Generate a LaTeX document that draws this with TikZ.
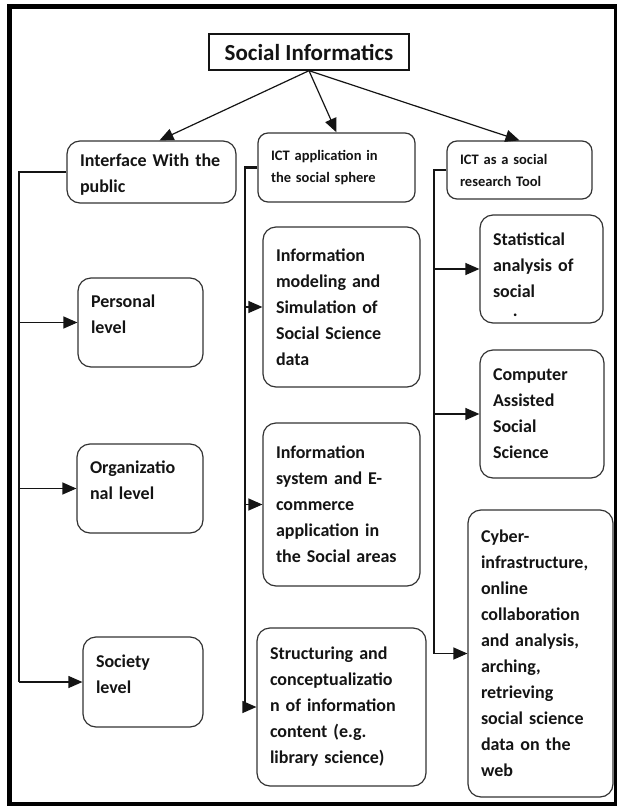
\documentclass[tikz,border=0pt]{standalone}
\usepackage{fontspec}
\setmainfont{Carlito}
\usetikzlibrary{arrows.meta,positioning,calc}
\definecolor{SinfInk}{HTML}{141414}
\definecolor{SinfEdge}{HTML}{333333}

\begin{document}
\begin{tikzpicture}[x=1pt,y=-1pt,>=Triangle]
  \tikzset{
    headbox/.style={draw=SinfInk,line width=1.4pt,minimum width=200pt,minimum height=36pt,
      font=\fontsize{23}{26}\selectfont\bfseries,text=SinfInk},
    cbox/.style={draw=SinfEdge,rounded corners=13pt,line width=1.2pt,align=left,
      inner xsep=13pt,inner ysep=3pt,font=\fontsize{18}{26}\selectfont\bfseries,text=SinfInk},
    topbox/.style={cbox,rounded corners=10pt,font=\fontsize{14.5}{22}\selectfont\bfseries},
    lvlbox/.style={cbox,text depth=42pt},
    branch/.style={-{Triangle[length=14pt,width=12pt]},line width=1.2pt,draw=SinfInk},
    bus/.style={line width=1.5pt,draw=SinfInk}
  }
  \useasboundingbox (0,0) rectangle (616,806);
  \draw[line width=5pt] (9.5,6.5) rectangle (616,804);
  % top of the tree
  \node[headbox] (title) at (309,52) {Social Informatics};
  \node[cbox,text width=143pt,minimum height=62pt,text depth=23pt] (iface) at (151.5,172) {Interface With the\\public};
  \node[topbox,text width=131pt,minimum height=69pt] (ictapp) at (336.5,167.5) {ICT application in\\the social sphere};
  \node[topbox,text width=119pt,minimum height=58pt] (icttool) at (519.5,170) {ICT as a social\\research Tool};
  \draw[branch] (title.south) -- ([xshift=8pt]iface.north);
  \draw[branch] (title.south) -- (ictapp.north);
  \draw[branch] (title.south) -- (icttool.north);
  % left column
  \node[lvlbox,text width=99pt,minimum height=89pt] (personal) at (140.5,322.5) {Personal\\level};
  \node[lvlbox,text width=100pt,minimum height=89pt] (org) at (140,488.5) {Organizatio\\nal level};
  \node[lvlbox,text width=94pt,minimum height=90pt] (society) at (143,682) {Society\\level};
  % middle column
  \node[cbox,text width=131pt,minimum height=160pt] (infomod) at (341.5,307) {Information\\modeling and\\Simulation of\\Social Science\\data};
  \node[cbox,text width=131pt,minimum height=163pt] (infosys) at (341.5,504.5) {Information\\system and E-\\commerce\\application in\\the Social areas};
  \node[cbox,text width=143pt,minimum height=158pt] (struct) at (341.5,707) {Structuring and\\conceptualizatio\\n of information\\content (e.g.\\library science)};
  % right column
  \node[cbox,text width=97pt,minimum height=108pt,text depth=59pt] (stat) at (541.5,269) {Statistical\\analysis of\\social\\[-7pt]\hspace*{1.1em}.};
  \node[cbox,text width=98pt,minimum height=128pt] (comp) at (542,414) {Computer\\Assisted\\Social\\Science};
  \node[cbox,text width=119pt,minimum height=287pt] (cyber) at (540.5,653.5) {Cyber-\\infrastructure,\\online\\collaboration\\and analysis,\\arching,\\retrieving\\social science\\data on the\\web};
  % buses
  \coordinate (lbus) at (19,0);
  \coordinate (mbus) at (245,0);
  \coordinate (rbus) at (434,0);
  \draw[bus] (iface.west) -- (lbus |- iface.west) -- (lbus |- society.west);
  \draw[bus,line width=2.4pt] (ictapp.west) -- (mbus |- ictapp.west) -- (mbus |- struct.west);
  \draw[bus,line width=2pt] (icttool.west) -- (rbus |- icttool.west) -- (rbus |- cyber.west);
  \foreach \n in {personal,org,society}
    \draw[branch] (lbus |- \n.west) -- (\n.west);
  \foreach \n in {infomod,infosys,struct}
    \draw[branch] (mbus |- \n.west) -- (\n.west);
  \foreach \n in {stat,comp,cyber}
    \draw[branch] (rbus |- \n.west) -- (\n.west);
\end{tikzpicture}
\end{document}
